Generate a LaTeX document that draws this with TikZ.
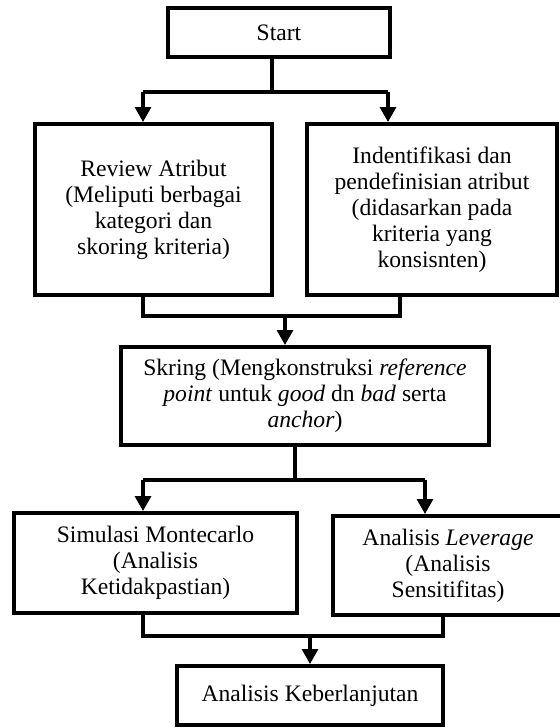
\documentclass[tikz,border=0pt]{standalone}
\usepackage{fontspec}
\setmainfont{Liberation Serif}
\usetikzlibrary{arrows.meta}

\begin{document}
\begin{tikzpicture}[x=0.5pt, y=-0.5pt,
		flowbox/.style={draw, line width=2pt, align=center, inner sep=2pt, font=\fontsize{11.8}{13}\selectfont},
		link/.style={line width=1.6pt},
		linkarrow/.style={line width=1.6pt, -{Triangle[length=7.5pt, width=8pt]}}]
		\useasboundingbox (0, 0) rectangle (559, 728);
		\node (start) at (279, 32.5) [flowbox, minimum width=111pt, minimum height=24.5pt] {Start};
		\node (review) at (153.5, 209.5) [flowbox, minimum width=118.5pt, minimum height=85.5pt] {Review Atribut\\(Meliputi berbagai\\kategori dan\\skoring kriteria)};
		\node (ident) at (432, 209.5) [flowbox, minimum width=125pt, minimum height=85.5pt] {Indentifikasi dan\\pendefinisian atribut\\(didasarkan pada\\kriteria yang\\konsisnten)};
		\node (skring) at (305, 396) [flowbox, minimum width=184pt, minimum height=49pt] {Skring (Mengkonstruksi \textit{reference}\\\textit{point} untuk \textit{good} dn \textit{bad} serta\\\textit{anchor})};
		\node (monte) at (155.5, 563) [flowbox, minimum width=141.5pt, minimum height=50pt] {Simulasi Montecarlo\\(Analisis\\Ketidakpastian)};
		\node (lever) at (448, 565.5) [flowbox, minimum width=115pt, minimum height=49.5pt] {Analisis \textit{Leverage}\\(Analisis\\Sensitifitas)};
		\node (final) at (310, 695.5) [flowbox, minimum width=133pt, minimum height=29.5pt] {Analisis Keberlanjutan};
		\coordinate (j1) at (272, 92);
		\coordinate (a1) at (143, 92);
		\coordinate (b1) at (388, 92);
		\draw [link] (start.south -| j1) -- (j1);
		\draw [link] (a1) -- (b1);
		\draw [linkarrow] (a1) -- (a1 |- review.north);
		\draw [linkarrow] (b1) -- (b1 |- ident.north);
		\coordinate (c2) at (143, 316);
		\coordinate (d2) at (400, 316);
		\coordinate (e2) at (285, 316);
		\draw [link] (c2 |- review.south) -- (c2) -- (d2) -- (d2 |- ident.south);
		\draw [linkarrow] (e2) -- (e2 |- skring.north);
		\coordinate (j3) at (295, 480);
		\coordinate (a3) at (143, 480);
		\coordinate (b3) at (425, 480);
		\draw [link] (skring.south -| j3) -- (j3);
		\draw [link] (a3) -- (b3);
		\draw [linkarrow] (a3) -- (a3 |- monte.north);
		\draw [linkarrow] (b3) -- (b3 |- lever.north);
		\coordinate (c4) at (143, 636);
		\coordinate (d4) at (443, 636);
		\coordinate (e4) at (310, 636);
		\draw [link] (c4 |- monte.south) -- (c4) -- (d4) -- (d4 |- lever.south);
		\draw [linkarrow] (e4) -- (e4 |- final.north);
	\end{tikzpicture}
\end{document}
